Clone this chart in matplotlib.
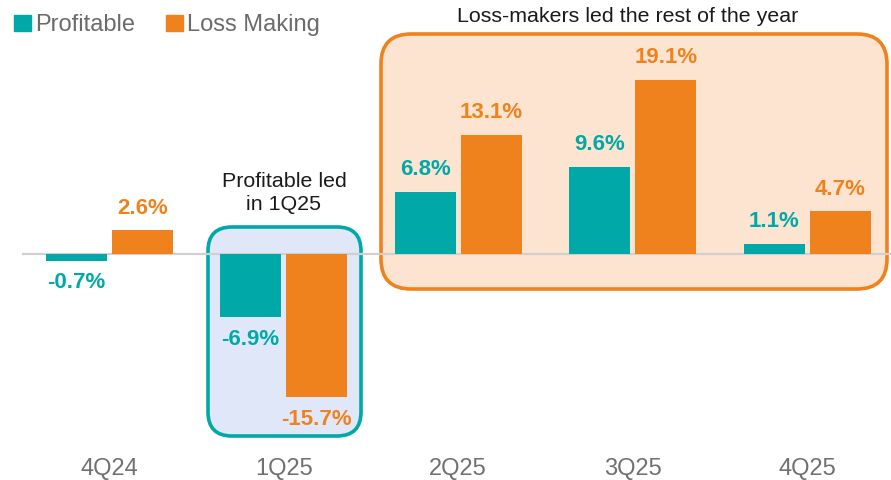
import numpy as np
import matplotlib.pyplot as plt
from matplotlib.patches import FancyBboxPatch, Patch

plt.rcParams['font.family'] = ['Liberation Sans', 'DejaVu Sans']

quarters = ["4Q24", "1Q25", "2Q25", "3Q25", "4Q25"]
profitable = [-0.7, -6.9, 6.8, 9.6, 1.1]
loss_making = [2.6, -15.7, 13.1, 19.1, 4.7]

teal = "#00A8A8"
orange = "#F0821E"

fig = plt.figure(figsize=(8.91, 4.8), dpi=100)
ax = fig.add_axes([22 / 891, 40 / 480, 1 - 22 / 891, 400 / 480])

# highlight boxes (figure inches)
blue_box = FancyBboxPatch((2.08, 0.44), 1.53, 2.09, boxstyle="round,pad=0,rounding_size=0.24",
                          facecolor="#DFE7F8", edgecolor=teal,
                          linewidth=2.6, zorder=1, clip_on=False)
orange_box = FancyBboxPatch((3.81, 1.91), 5.06, 2.55, boxstyle="round,pad=0,rounding_size=0.3",
                            facecolor="#FCE4D0", edgecolor=orange,
                            linewidth=2.6, zorder=1, clip_on=False)
for b in (blue_box, orange_box):
    ax.add_patch(b)
    b.set_transform(fig.dpi_scale_trans)

x = np.arange(len(quarters))
w = 0.35
off = 0.19
ax.bar(x - off, profitable, w, color=teal, zorder=3)
ax.bar(x + off, loss_making, w, color=orange, zorder=3)
ax.axhline(0, color="#D0D0D0", lw=1.6, zorder=2)

for xi, v in zip(x - off, profitable):
    ax.annotate(f"{v:.1f}%", (xi, v), xytext=(0, 16 if v > 0 else -16), textcoords="offset points",
                ha="center", va="center", color=teal, fontsize=16, fontweight="bold")
for xi, v in zip(x + off, loss_making):
    ax.annotate(f"{v:.1f}%", (xi, v), xytext=(0, 16 if v > 0 else -16), textcoords="offset points",
                ha="center", va="center", color=orange, fontsize=16, fontweight="bold")

ax.set_xlim(-0.5, 4.48)
ax.set_ylim(-20.4, 23.5)
ax.set_xticks(x)
ax.set_xticklabels(quarters, fontsize=17, color="#707070")
ax.tick_params(axis="x", length=0, pad=13)
ax.set_yticks([])
for s in ax.spines.values():
    s.set_visible(False)
ax.patch.set_alpha(0)

fig.text(628 / 891, 1 - 16 / 480, "Loss-makers led the rest of the year", ha="center", va="center",
         fontsize=15.4, color="#1a1a1a")
fig.text(284 / 891, 1 - 193 / 480, "Profitable led\nin 1Q25", ha="center", va="center",
         fontsize=15.4, color="#1a1a1a", linespacing=1.25)

handles = [Patch(color=teal, label="Profitable"), Patch(color=orange, label="Loss Making")]
fig.legend(handles=handles, loc="upper left", bbox_to_anchor=(-0.008, 1.015), ncol=2, frameon=False,
           fontsize=17, labelcolor="#6B6B6B", handlelength=0.7, handleheight=0.7,
           handletextpad=0.2, columnspacing=1.3)

fig.savefig("out.png", dpi=100)
